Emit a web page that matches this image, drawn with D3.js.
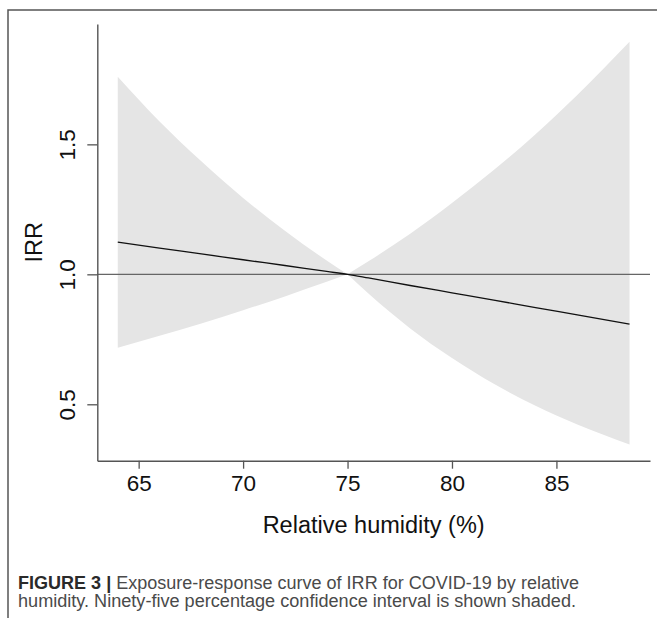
<!DOCTYPE html>
<html>
<head>
<meta charset="utf-8">
<script src="https://cdn.jsdelivr.net/npm/d3@7"></script>
<style>
  body { margin: 0; background: #fff; }
  svg { display: block; font-family: "Liberation Sans", Arial, sans-serif; }
</style>
</head>
<body>
<div id="chart"></div>
<script>
// Values
const humidity = [64, 66, 68, 70, 72, 74, 75, 76, 78, 80, 82, 84, 86, 88.5];
const irr      = [1.124, 1.101, 1.079, 1.056, 1.034, 1.011, 1.0, 0.986, 0.957, 0.929, 0.901, 0.872, 0.844, 0.808];
const upper    = [1.760, 1.588, 1.435, 1.294, 1.168, 1.053, 1.0, 1.050, 1.156, 1.274, 1.401, 1.539, 1.690, 1.895];
const lower    = [0.718, 0.764, 0.811, 0.862, 0.915, 0.971, 1.0, 0.926, 0.792, 0.678, 0.579, 0.494, 0.422, 0.345];
const xTicks = [65, 70, 75, 80, 85];
const yTicks = [0.5, 1.0, 1.5];

const width = 657,
    height = 618;

const svg = d3.select("#chart")
    .append("svg")
    .attr("width", width)
    .attr("height", height);

// Frame around the figure (open to the right and bottom)
svg.append("path")
    .attr("d", "M8,618 L8,10 L657,10")
    .attr("fill", "none")
    .attr("stroke", "#555")
    .attr("stroke-width", 1.5);

// Scales (R style 4% padding around the data range)
const xScale = d3.scaleLinear()
    .domain([63.02, 89.48])
    .range([97.3, 650]);

const yScale = d3.scaleLinear()
    .domain([0.283, 1.963])
    .range([460.7, 24]);

const data = humidity.map((h, i) => ({h: h, irr: irr[i], up: upper[i], lo: lower[i]}));
const split = humidity.indexOf(75);

// Confidence band, two halves so the pinch at 75 stays sharp
const area = d3.area()
    .x(d => xScale(d.h))
    .y0(d => yScale(d.lo))
    .y1(d => yScale(d.up))
    .curve(d3.curveMonotoneX);

[data.slice(0, split + 1), data.slice(split)].forEach(part => {
    svg.append("path")
        .datum(part)
        .attr("d", area)
        .attr("fill", "#e5e5e5");
});

// Reference line at IRR = 1
svg.append("line")
    .attr("x1", xScale.range()[0])
    .attr("x2", xScale.range()[1])
    .attr("y1", yScale(1))
    .attr("y2", yScale(1))
    .attr("stroke", "#666")
    .attr("stroke-width", 1.3);

// Estimate line
const line = d3.line()
    .x(d => xScale(d.h))
    .y(d => yScale(d.irr))
    .curve(d3.curveMonotoneX);

svg.append("path")
    .datum(data)
    .attr("d", line)
    .attr("fill", "none")
    .attr("stroke", "#111")
    .attr("stroke-width", 1.3);

// Axes
const xAxis = svg.append("g")
    .attr("transform", `translate(0, ${yScale.range()[0]})`)
    .call(d3.axisBottom(xScale).tickValues(xTicks).tickSize(8).tickSizeOuter(0).tickFormat(d3.format("d")));

xAxis.selectAll("text")
    .attr("y", 30.5)
    .attr("dy", 0)
    .style("font-size", "22.5px")
    .attr("fill", "#111");

const yAxis = svg.append("g")
    .attr("transform", `translate(${xScale.range()[0]}, 0)`)
    .call(d3.axisLeft(yScale).tickValues(yTicks).tickSize(10).tickSizeOuter(0).tickFormat(d3.format(".1f")));

yAxis.selectAll("text")
    .attr("transform", "rotate(-90)")
    .attr("x", 0)
    .attr("y", -22)
    .attr("dy", 0)
    .style("text-anchor", "middle")
    .style("font-size", "22.5px")
    .attr("fill", "#111");

[xAxis, yAxis].forEach(g => {
    g.select(".domain").attr("stroke", "#555").attr("stroke-width", 1.4);
    g.selectAll(".tick line").attr("stroke", "#555").attr("stroke-width", 1.3);
});

// Axis titles
svg.append("text")
    .attr("x", (xScale.range()[0] + xScale.range()[1]) / 2)
    .attr("y", 533)
    .style("text-anchor", "middle")
    .style("font-size", "23.5px")
    .attr("fill", "#111")
    .text("Relative humidity (%)");

svg.append("text")
    .attr("transform", `translate(42, ${(yScale.range()[0] + yScale.range()[1]) / 2}) rotate(-90)`)
    .style("text-anchor", "middle")
    .style("font-size", "23.5px")
    .attr("fill", "#111")
    .text("IRR");

// Caption
const cap1 = svg.append("text")
    .attr("x", 18)
    .attr("y", 589)
    .attr("textLength", 561)
    .attr("lengthAdjust", "spacingAndGlyphs")
    .style("font-size", "18px");
cap1.append("tspan")
    .style("font-weight", "bold")
    .attr("fill", "#2a2a2a")
    .text("FIGURE 3 | ");
cap1.append("tspan")
    .attr("fill", "#4a4a4a")
    .text("Exposure-response curve of IRR for COVID-19 by relative");

svg.append("text")
    .attr("x", 18)
    .attr("y", 607)
    .attr("textLength", 558)
    .attr("lengthAdjust", "spacingAndGlyphs")
    .style("font-size", "18px")
    .attr("fill", "#4a4a4a")
    .text("humidity. Ninety-five percentage confidence interval is shown shaded.");
</script>
</body>
</html>
